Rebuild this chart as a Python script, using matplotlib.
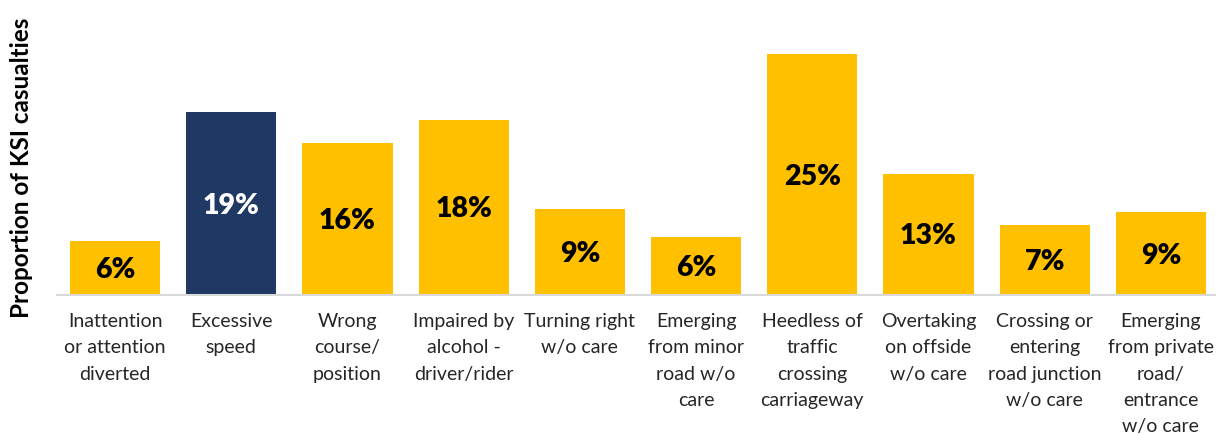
import numpy as np
import matplotlib
matplotlib.use("Agg")
import matplotlib.pyplot as plt

plt.rcParams['font.family'] = ['Lato', 'DejaVu Sans']

# contributory factors and share of KSI casualties (%)
factors = [
    "Inattention\nor attention\ndiverted",
    "Excessive\nspeed",
    "Wrong\ncourse/\nposition",
    "Impaired by\nalcohol -\ndriver/rider",
    "Turning right\nw/o care",
    "Emerging\nfrom minor\nroad w/o\ncare",
    "Heedless of\ntraffic\ncrossing\ncarriageway",
    "Overtaking\non offside\nw/o care",
    "Crossing or\nentering\nroad junction\nw/o care",
    "Emerging\nfrom private\nroad/\nentrance\nw/o care",
]
share = [5.6, 19.0, 15.8, 18.2, 9.0, 6.0, 25.0, 12.6, 7.3, 8.6]
highlight = 1  # excessive speed

gold = "#FFC000"
navy = "#203864"

fig = plt.figure(figsize=(12.16, 4.34), dpi=100)
ax = fig.add_axes([57 / 1216, 0.3196, 1162 / 1216, 0.6664])

x = np.arange(len(factors))
colors = [navy if i == highlight else gold for i in x]
bars = ax.bar(x, share, width=0.775, color=colors)

for i, b in enumerate(bars):
    ax.text(b.get_x() + b.get_width() / 2, b.get_height() / 2 - 0.2,
            f"{share[i]:.0f}%", ha="center", va="center",
            fontsize=20.5, fontweight="heavy",
            color="white" if i == highlight else "black")

ax.set_xlim(-0.5, len(factors) - 0.5)
ax.set_ylim(0, 30)
ax.set_xticks(x)
ax.set_xticklabels(factors, fontsize=14, color="#262626", linespacing=1.65)
ax.tick_params(axis="x", length=0, pad=13)
ax.set_yticks([])

for side in ["top", "right", "left"]:
    ax.spines[side].set_visible(False)
ax.spines["bottom"].set_color("#D9D9D9")
ax.spines["bottom"].set_linewidth(1.5)

fig.text(22 / 1216, 1 - 168 / 434, "Proportion of KSI casualties",
         rotation=90, ha="center", va="center",
         fontsize=17.5, fontweight="bold", color="black")

fig.savefig("out.png", dpi=100)
